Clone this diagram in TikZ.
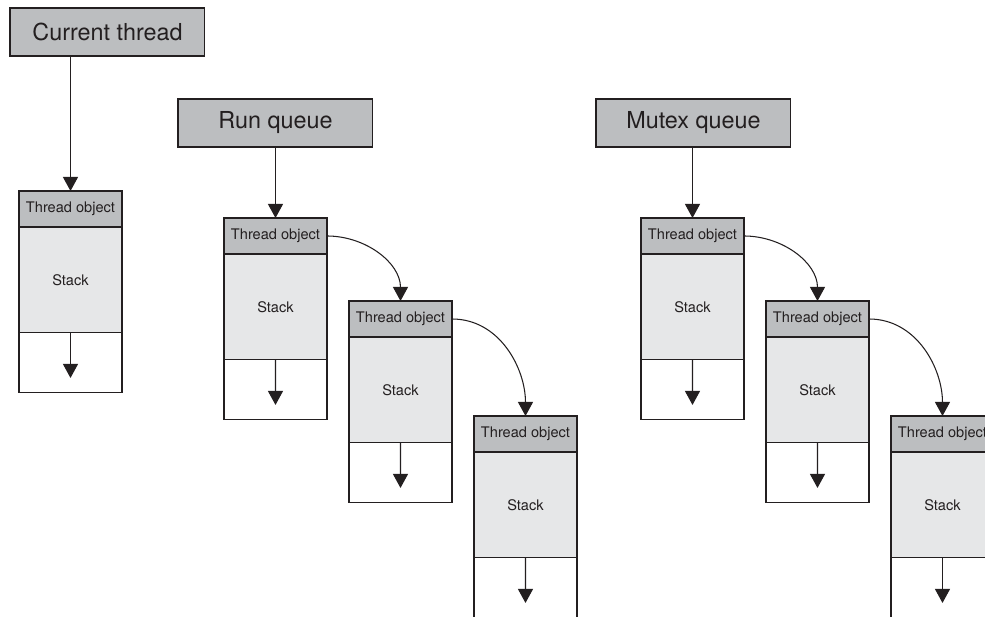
\documentclass[tikz,border=0pt]{standalone}
\usepackage{fontspec}
\setmainfont{TeX Gyre Heros}
\usetikzlibrary{arrows.meta,positioning,calc}
\definecolor{ThrInk}{HTML}{231F20}
\definecolor{ThrHead}{HTML}{BCBEC0}
\definecolor{ThrStack}{HTML}{E6E7E8}

\begin{document}
\begin{tikzpicture}[x=0.02cm, y=-0.02cm, node distance=0cm, line width=0.6pt,
    every node/.style={outer sep=0pt, inner sep=0pt, text=ThrInk},
    title/.style={draw=ThrInk, fill=ThrHead, minimum width=3.9cm, minimum height=0.96cm, anchor=north west, font=\fontsize{13.3}{16}\selectfont},
    objhead/.style={draw=ThrInk, fill=ThrHead, minimum width=2.06cm, minimum height=0.72cm, anchor=north west, font=\fontsize{8.3}{10}\selectfont},
    stackbox/.style={draw=ThrInk, fill=ThrStack, minimum width=2.06cm, minimum height=2.12cm, font=\fontsize{8.3}{10}\selectfont},
    cellbox/.style={draw=ThrInk, fill=white, minimum width=2.06cm, minimum height=1.2cm},
    arr/.style={-{Triangle[length=0.28cm,width=0.3cm]}, ThrInk},
    link/.style={arr, out=0, in=90}]
    \clip (0,0) rectangle (985,617);
    % queue heads
    \node[title] (cur) at (10,8) {Current thread};
    \node[title] (rq) at (178,99) {Run queue};
    \node[title] (mq) at (596,99) {Mutex queue};
    % current thread
    \node[objhead] (h1) at (19,191) {Thread object};
    \node[stackbox,below=of h1] (s1) {Stack};
    \node[cellbox,below=of s1] (c1) {};
    % run queue
    \node[objhead] (h2) at (224,218) {Thread object};
    \node[stackbox,below=of h2] (s2) {Stack};
    \node[cellbox,below=of s2] (c2) {};
    \node[objhead] (h3) at (349,301) {Thread object};
    \node[stackbox,below=of h3] (s3) {Stack};
    \node[cellbox,below=of s3] (c3) {};
    \node[objhead] (h4) at (474,416) {Thread object};
    \node[stackbox,below=of h4] (s4) {Stack};
    \node[cellbox,below=of s4] (c4) {};
    % mutex queue
    \node[objhead] (h5) at (641,218) {Thread object};
    \node[stackbox,below=of h5] (s5) {Stack};
    \node[cellbox,below=of s5] (c5) {};
    \node[objhead] (h6) at (766,301) {Thread object};
    \node[stackbox,below=of h6] (s6) {Stack};
    \node[cellbox,below=of s6] (c6) {};
    \node[objhead] (h7) at (891,416) {Thread object};
    \node[stackbox,below=of h7] (s7) {Stack};
    \node[cellbox,below=of s7] (c7) {};
    % pointers
    \draw[arr] (cur.south -| h1.north) -- (h1.north);
    \draw[arr] (rq.south -| h2.north) -- (h2.north); \draw[arr] (mq.south -| h5.north) -- (h5.north);
    \draw[link] (h2.east) to (h3.north); \draw[link] (h3.east) to (h4.north);
    \draw[link] (h5.east) to (h6.north); \draw[link] (h6.east) to (h7.north);
    \draw[arr] (c1.north) -- ($(c1.north)!.75!(c1.south)$);
    \draw[arr] (c2.north) -- ($(c2.north)!.75!(c2.south)$);
    \draw[arr] (c3.north) -- ($(c3.north)!.75!(c3.south)$);
    \draw[arr] (c4.north) -- ($(c4.north)!.75!(c4.south)$);
    \draw[arr] (c5.north) -- ($(c5.north)!.75!(c5.south)$);
    \draw[arr] (c6.north) -- ($(c6.north)!.75!(c6.south)$);
    \draw[arr] (c7.north) -- ($(c7.north)!.75!(c7.south)$);
  \end{tikzpicture}
\end{document}
